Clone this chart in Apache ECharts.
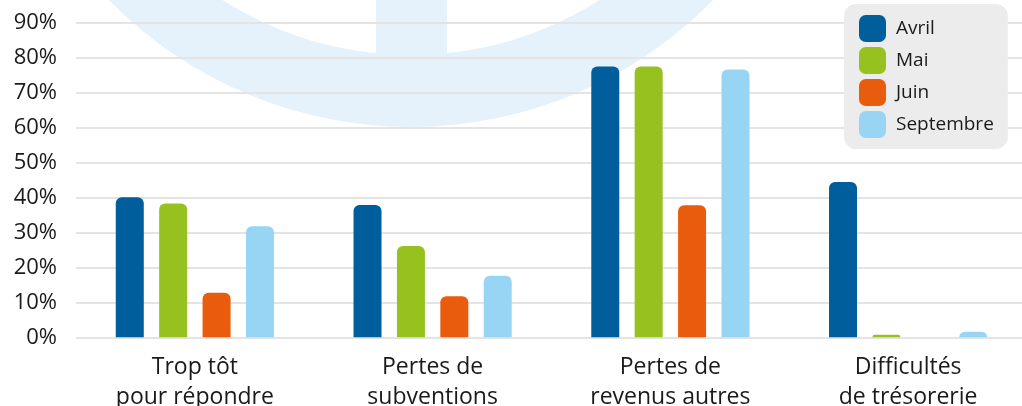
<!DOCTYPE html>
<html>
<head>
<meta charset="utf-8">
<script src="https://cdn.jsdelivr.net/npm/echarts@6/dist/echarts.min.js"></script>
<style>
html,body{margin:0;padding:0;background:#fff;}
#c{width:1022px;height:406px;}
</style>
</head>
<body>
<div id="c"></div>
<script>
const categories = ["Trop tôt\npour répondre", "Pertes de\nsubventions", "Pertes de\nrevenus autres", "Difficultés\nde trésorerie"];
const seriesNames = ["Avril", "Mai", "Juin", "Septembre"];
const avril = [40, 37.8, 77.4, 44.4];
const mai = [38.2, 26.1, 77.4, 0.7];
const juin = [12.7, 11.7, 37.7, 0];
const septembre = [31.7, 17.6, 76.5, 1.6];
const yTicks = [0, 10, 20, 30, 40, 50, 60, 70, 80, 90];

const colors = ["#005e9c", "#96c11f", "#ea5c0d", "#98d5f5"];
const values = [avril, mai, juin, septembre];
const FONT = "Open Sans";

const chart = echarts.init(document.getElementById('c'), null, {renderer: 'canvas'});
chart.setOption({
  animation: false,
  backgroundColor: '#ffffff',
  textStyle: {fontFamily: FONT},
  graphic: [
    {type: 'sector', z: -10, silent: true,
     shape: {cx: 411, cy: -296, r: 423, r0: 351, startAngle: 0, endAngle: Math.PI * 2},
     style: {fill: '#e5f1fb'}},
    {type: 'rect', z: -10, silent: true,
     shape: {x: 376, y: 0, width: 71, height: 60},
     style: {fill: '#e5f1fb'}}
  ],
  legend: {
    orient: 'vertical',
    left: 844, top: 4,
    data: seriesNames,
    icon: 'roundRect',
    itemWidth: 27, itemHeight: 27, itemGap: 5,
    padding: [11, 14, 11, 15],
    backgroundColor: '#ececec',
    borderRadius: 12,
    textStyle: {fontFamily: FONT, fontSize: 19, color: '#1a1a1a', padding: [0, 0, 0, 5]}
  },
  grid: {left: 76, right: -5, top: 22.3, bottom: 406 - 337.3, containLabel: false, outerBoundsMode: 'none'},
  xAxis: {
    type: 'category',
    data: categories,
    axisLine: {show: false},
    axisTick: {show: false},
    axisLabel: {fontFamily: FONT, fontSize: 23, color: '#1a1a1a', lineHeight: 30, margin: 15}
  },
  yAxis: {
    type: 'value',
    min: 0, max: 90, interval: 10,
    axisLine: {show: false},
    axisTick: {show: false},
    splitLine: {lineStyle: {color: '#e4e4e4', width: 2}},
    axisLabel: {fontFamily: FONT, fontSize: 22, color: '#1a1a1a', margin: 19,
      formatter: v => yTicks.includes(v) ? v + '%' : ''}
  },
  series: seriesNames.map((n, i) => ({
    name: n,
    type: 'bar',
    data: values[i],
    barWidth: 28,
    barGap: '55%',
    itemStyle: {color: colors[i], borderRadius: [6, 6, 0, 0]}
  }))
});
</script>
</body>
</html>
